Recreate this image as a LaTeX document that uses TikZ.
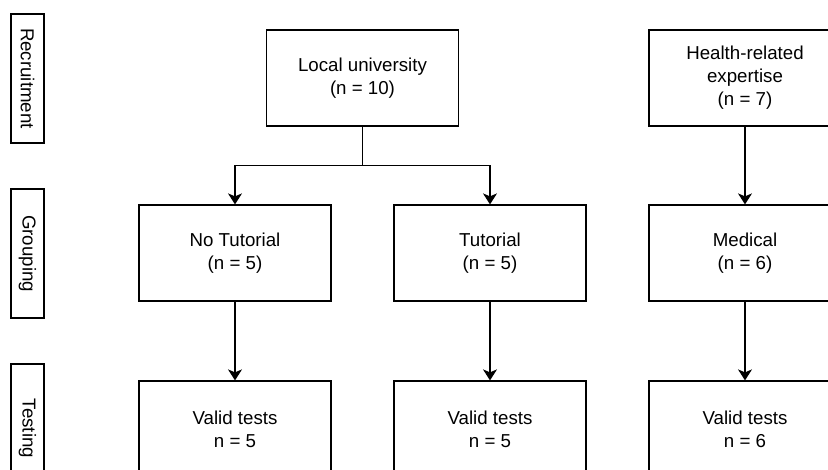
\documentclass[tikz,border=0pt]{standalone}
\usepackage{fontspec}
\setmainfont{Liberation Sans}
\usetikzlibrary{arrows.meta}
\begin{document}
\begin{tikzpicture}[x=1pt, y=-1pt,
	box/.style = {draw, line width=1.2pt, minimum width=192pt, minimum height=96pt, align=center, font=\fontsize{18.7}{23}\selectfont},
	stage/.style = {draw, line width=1.2pt, minimum width=129pt, minimum height=33pt, rotate=-90, inner sep=0pt, font=\fontsize{18.7}{23}\selectfont},
	arr/.style = {-{Stealth[length=11pt, width=14pt, inset=3pt]}, line width=1.2pt}]
	
	\useasboundingbox (0,0) rectangle (828,470);
	\clip (0,0) rectangle (828,470);
	
	% stage labels on the left
	\foreach \name/\txt/\y in {recruit/Recruitment/78.5, group/Grouping/253.5, test/Testing/428.5}
	{
		\node[stage] (\name) at (27.5,\y) {\txt};
	}
	
	\node[box] (uni) at (362.5,78) {Local university\\(n = 10)};
	\node[box] (health) at (745,78) {Health-related\\expertise\\(n = 7)};
	
	\node[box] (notut) at (235,253) {No Tutorial\\(n = 5)};
	\node[box] (tut) at (490,253) {Tutorial\\(n = 5)};
	\node[box] (med) at (745,253) {Medical\\(n = 6)};
	
	\node[box] (vnotut) at (235,429) {Valid tests\\n = 5};
	\node[box] (vtut) at (490,429) {Valid tests\\n = 5};
	\node[box] (vmed) at (745,429) {Valid tests\\n = 6};
	
	\draw[line width=1.2pt] (uni.south) -- ++(0,39) coordinate (split);
	\draw[arr] (split) -| (notut.north);
	\draw[arr] (split) -| (tut.north);
	\draw[arr] (health) -- (med);
	\draw[arr] (notut) -- (vnotut);
	\draw[arr] (tut) -- (vtut);
	\draw[arr] (med) -- (vmed);
\end{tikzpicture}
\end{document}
